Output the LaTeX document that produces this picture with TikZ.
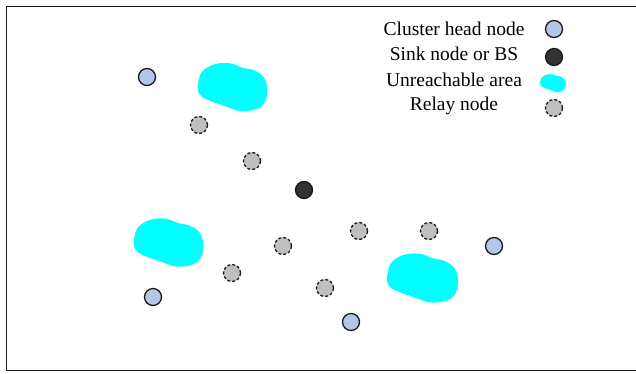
\documentclass[tikz,border=0pt]{standalone}
\usepackage{fontspec}
\setmainfont{Liberation Serif}
\definecolor{chfill}{HTML}{B4C7E7}
\definecolor{sinkfill}{HTML}{333333}
\definecolor{relayfill}{HTML}{BFBFBF}
\definecolor{edgegray}{HTML}{1A1A1A}
\definecolor{areacyan}{HTML}{00FFFF}
\tikzset{
  nodebase/.style={circle, inner sep=0pt, minimum size=17pt, line width=1.3pt, draw=edgegray},
  chnode/.style={nodebase, fill=chfill},
  sinknode/.style={nodebase, fill=sinkfill},
  relaynode/.style={nodebase, fill=relayfill, dash pattern=on 3pt off 2pt},
  legtext/.style={anchor=base, font=\fontsize{19.5}{22}\selectfont, inner sep=0pt},
  frameline/.style={draw=edgegray, line width=1.3pt}
}
\newcommand{\areablob}[3]{%
  \fill[areacyan, shift={(#1,#2)}, scale=#3]
    plot[smooth cycle, tension=0.6] coordinates {
      (-34.8,-0.3) (-31.5,-13.7) (-22.5,-21) (-10.8,-24) (0.8,-23)
      (9.2,-19.5) (20.8,-17) (30.8,-10.3) (34.8,1.3) (32.5,14.7)
      (24.2,22) (7.5,24) (-9.2,18.5) (-25.8,12.5) (-33.2,7)};}
\begin{document}
\begin{tikzpicture}[x=1pt, y=-1pt]
\useasboundingbox (0,0) rectangle (636,373);
\begin{scope}
\clip (0,0) rectangle (636,373);
\draw[frameline] (6.5,6.5) rectangle (645,370.5);
\end{scope}
% unreachable areas
\areablob{232.5}{87}{1}
\areablob{168.5}{242.5}{1}
\areablob{422.5}{278}{1.02}
\areablob{553}{83}{0.37}
% cluster heads
\node[chnode] (ch1) at (147,77) {};
\node[chnode] (ch2) at (153,297) {};
\node[chnode] (ch3) at (494,246) {};
\node[chnode] (ch4) at (351,322) {};
% sink
\node[sinknode] (sink) at (304,190) {};
% relays
\node[relaynode] (r1) at (199,125) {};
\node[relaynode] (r2) at (252,161) {};
\node[relaynode] (r3) at (283,246) {};
\node[relaynode] (r4) at (232,273) {};
\node[relaynode] (r5) at (359,231) {};
\node[relaynode] (r6) at (429,231) {};
\node[relaynode] (r7) at (325,288) {};
% legend
\node[legtext] (l1) at (454,35) {Cluster head node};
\node[legtext] (l2) at (454,60) {Sink node or BS};
\node[legtext] (l3) at (454,86) {Unreachable area};
\node[legtext] (l4) at (454,110) {Relay node};
\node[chnode] (lch) at (554,29) {};
\node[sinknode] (lsink) at (554,57) {};
\node[relaynode] (lrelay) at (554,108) {};
\end{tikzpicture}
\end{document}
